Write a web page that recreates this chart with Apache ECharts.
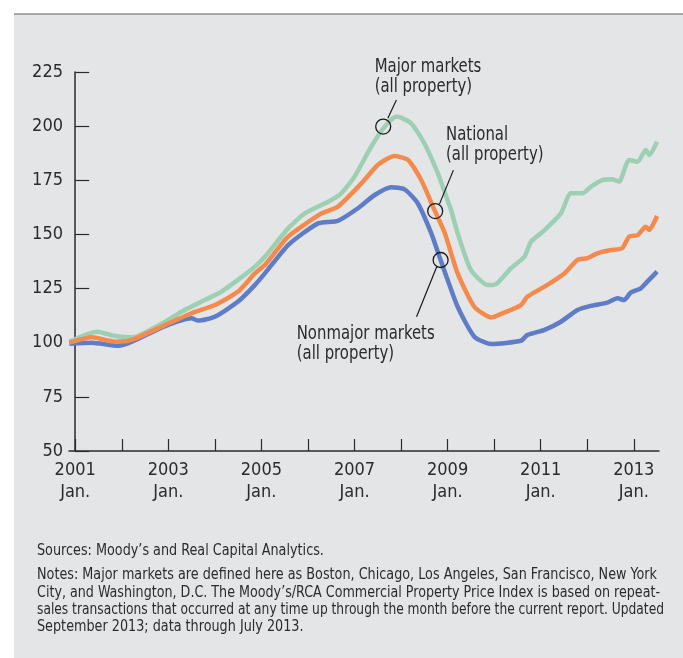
<!DOCTYPE html>
<html>
<head>
<meta charset="utf-8">
<script src="https://cdn.jsdelivr.net/npm/echarts@6/dist/echarts.min.js"></script>
<style>
html, body { margin: 0; padding: 0; background: #fff; }
#chart { width: 683px; height: 658px; }
</style>
</head>
<body>
<div id="chart"></div>
<script>
// months counted from Jan. 2001 (0 = 2001 Jan.)
const majorMonths = [-1.5, 5.6, 10.3, 14.6, 23.2, 27.4, 33.4, 37.7, 43.7, 46.3, 48.9, 54.9, 59.2, 65.2, 68.6, 72, 76.3, 79.8, 82.8, 86.6, 90, 93.5, 95.2, 96.9, 98.6, 102, 106.3, 108.5, 112.3, 115.8, 117.5, 121, 125.2, 127.8, 130.8, 132.9, 135.9, 138.5, 140.2, 142.8, 145, 147.1, 148, 150]
const majorValues = [100.5, 105.1, 103.1, 102.5, 109.7, 114.3, 119.7, 123.6, 131.3, 135.1, 139.7, 152.8, 159.7, 165.1, 169, 176.7, 190.5, 199.8, 204.4, 201.3, 192.1, 178.2, 169.7, 161.3, 150.5, 133.6, 126.6, 127, 134.3, 139.7, 146.6, 152, 159.7, 169, 169, 172, 175.1, 175.5, 174.4, 184.4, 183.6, 189, 186.7, 192.8]

const nationalMonths = [-1.5, 4.3, 10.3, 14.6, 23.2, 30, 36, 42, 46.3, 48.9, 54.9, 63.5, 67.7, 73.8, 78, 82.3, 85.8, 89.2, 92.6, 95.2, 98.6, 102.9, 107.2, 110.6, 114.9, 116.6, 121, 126.1, 129.5, 132, 134.6, 138.1, 141, 142.8, 145, 147.1, 148, 150]
const nationalValues = [100, 102.5, 100.5, 101.3, 108.2, 113.6, 117.4, 123.6, 132, 135.9, 149, 159.7, 162.8, 173.6, 182.1, 186.2, 184.4, 175.1, 161.3, 151, 132, 116.6, 111.7, 113.9, 117.4, 121.3, 125.9, 132, 138.2, 139, 141.3, 142.8, 143.6, 149, 149.7, 153.6, 152.1, 158.5]

const nonmajorMonths = [-1.5, 4.3, 11.1, 14.6, 23.2, 30, 31.7, 36, 42, 46.3, 48.9, 54.9, 62.6, 67.7, 72.9, 77.2, 81.5, 84.9, 88.3, 91.8, 94.2, 98.6, 102.9, 107.2, 114.9, 116.6, 121, 125.2, 129.5, 132.9, 137.2, 139.8, 141.5, 143.2, 145.8, 147.5, 150]
const nonmajorValues = [99.5, 100, 98.6, 100.5, 107.7, 111.3, 110.2, 112, 119, 126.6, 132, 145.1, 155.1, 156.3, 162.1, 168.2, 171.8, 170.8, 164.4, 150.5, 138.2, 116.6, 102.8, 99.4, 100.9, 103.6, 105.9, 109.7, 115.1, 117, 118.5, 120.5, 119.7, 123.1, 125.1, 128.2, 132.8]

const yearTicks = [0, 12, 24, 36, 48, 60, 72, 84, 96, 108, 120, 132, 144]
const yearLabels = [0, 24, 48, 72, 96, 120, 144]

// annotation circles, leader lines and label anchors (data coordinates)
const callouts = [
    { text: 'Major markets\n(all property)', at: [77.2, 231.9], circle: [79.4, 199.8], line: [[82.8, 212.1], [80.6, 203.6]] },
    { text: 'National\n(all property)', at: [95.6, 200.5], circle: [92.8, 160.8], line: [[97.5, 179.7], [93.9, 164]] },
    { text: 'Nonmajor markets\n(all property)', at: [57.1, 108.5], circle: [94.2, 138.2], line: [[93.2, 135.1], [88, 112]] }
]

const FONT = "'DejaVu Sans Condensed', 'Liberation Sans', sans-serif"
const INK = '#2b2b2b'

function pairs(xs, ys) {
    return xs.map((x, i) => [x, ys[i]])
}

// horizontal squeeze so the condensed look of the original fits its width
function squeeze(text, font, width) {
    const ctx = document.createElement('canvas').getContext('2d')
    ctx.font = font
    return width / ctx.measureText(text).width
}

const chart = echarts.init(document.getElementById('chart'))

let option = {
    animation: false,
    backgroundColor: '#fff',
    grid: { left: 69, right: 24, top: 72, bottom: 207 },
    xAxis: {
        type: 'value',
        min: -1.6,
        max: 150.5,
        axisLine: { lineStyle: { color: INK, width: 1.5 } },
        axisTick: { inside: true, length: 12, lineStyle: { color: INK, width: 1.2 }, customValues: yearTicks },
        axisLabel: {
            customValues: yearLabels,
            color: INK,
            fontFamily: FONT,
            fontSize: 18,
            lineHeight: 22,
            margin: 8,
            formatter: v => (2001 + v / 12) + '\nJan.'
        },
        splitLine: { show: false }
    },
    yAxis: {
        type: 'value',
        min: 50,
        max: 225,
        interval: 25,
        axisLine: { show: true, lineStyle: { color: INK, width: 1.5 } },
        axisTick: { show: true, inside: true, length: 14, lineStyle: { color: INK, width: 1.2 } },
        axisLabel: { color: INK, fontFamily: FONT, fontSize: 18, margin: 6 },
        splitLine: { show: false }
    },
    series: []
}

option.series.push({
    name: 'Major markets',
    type: 'line',
    data: pairs(majorMonths, majorValues),
    showSymbol: false,
    smooth: 0.2,
    lineStyle: { color: '#9dcfb2', width: 4.5 }
})
option.series.push({
    name: 'Nonmajor markets',
    type: 'line',
    data: pairs(nonmajorMonths, nonmajorValues),
    showSymbol: false,
    smooth: 0.2,
    lineStyle: { color: '#5f7cc6', width: 4.5 }
})
option.series.push({
    name: 'National',
    type: 'line',
    data: pairs(nationalMonths, nationalValues),
    showSymbol: false,
    smooth: 0.2,
    lineStyle: { color: '#f58a4c', width: 4.5 },
    markPoint: {
        silent: true,
        symbol: 'circle',
        symbolSize: 15,
        itemStyle: { color: 'rgba(0,0,0,0)', borderColor: '#1a1a1a', borderWidth: 1.3 },
        label: { show: false },
        data: callouts.map(c => ({ coord: c.circle }))
    },
    markLine: {
        silent: true,
        symbol: ['none', 'none'],
        label: { show: false },
        lineStyle: { color: '#1a1a1a', width: 1.2, type: 'solid' },
        data: callouts.map(c => [{ coord: c.line[0] }, { coord: c.line[1] }])
    }
})

chart.setOption(option)

// gray panel, callout texts and the source notes
const notes = [
    'Sources: Moody’s and Real Capital Analytics.',
    'Notes: Major markets are defined here as Boston, Chicago, Los Angeles, San Francisco, New York',
    'City, and Washington, D.C. The Moody’s/RCA Commercial Property Price Index is based on repeat-',
    'sales transactions that occurred at any time up through the month before the current report. Updated',
    'September 2013; data through July 2013.'
]
const noteY = [551, 575, 592.5, 610, 627]
// right edge of the justified lines in the original (0 = natural width)
const noteRight = [0, 657, 660, 664, 0]

const calloutFont = '19px ' + FONT
const calloutScale = squeeze('Nonmajor markets', calloutFont, 138)
const noteFont = '16.5px ' + FONT
const noteScale = squeeze(notes[1], noteFont, 620)

let graphics = [
    { type: 'rect', z: -10, silent: true, shape: { x: 14, y: 14, width: 669, height: 644 }, style: { fill: '#e4e5e7' } },
    { type: 'line', z: -9, silent: true, shape: { x1: 14, y1: 14, x2: 683, y2: 14 }, style: { stroke: '#8c8c8c', lineWidth: 1.5 } }
]
callouts.forEach(c => {
    const p = chart.convertToPixel({ gridIndex: 0 }, c.at)
    graphics.push({
        type: 'text', silent: true, x: p[0], y: p[1], scaleX: calloutScale,
        style: { text: c.text, font: calloutFont, fill: INK, lineHeight: 20, textVerticalAlign: 'top' }
    })
})
notes.forEach((t, i) => {
    const sx = noteRight[i] ? squeeze(t, noteFont, noteRight[i] - 37) : noteScale
    graphics.push({
        type: 'text', silent: true, x: 37, y: noteY[i], scaleX: sx,
        style: { text: t, font: noteFont, fill: INK, textVerticalAlign: 'middle' }
    })
})
chart.setOption({ graphic: graphics })
</script>
</body>
</html>
